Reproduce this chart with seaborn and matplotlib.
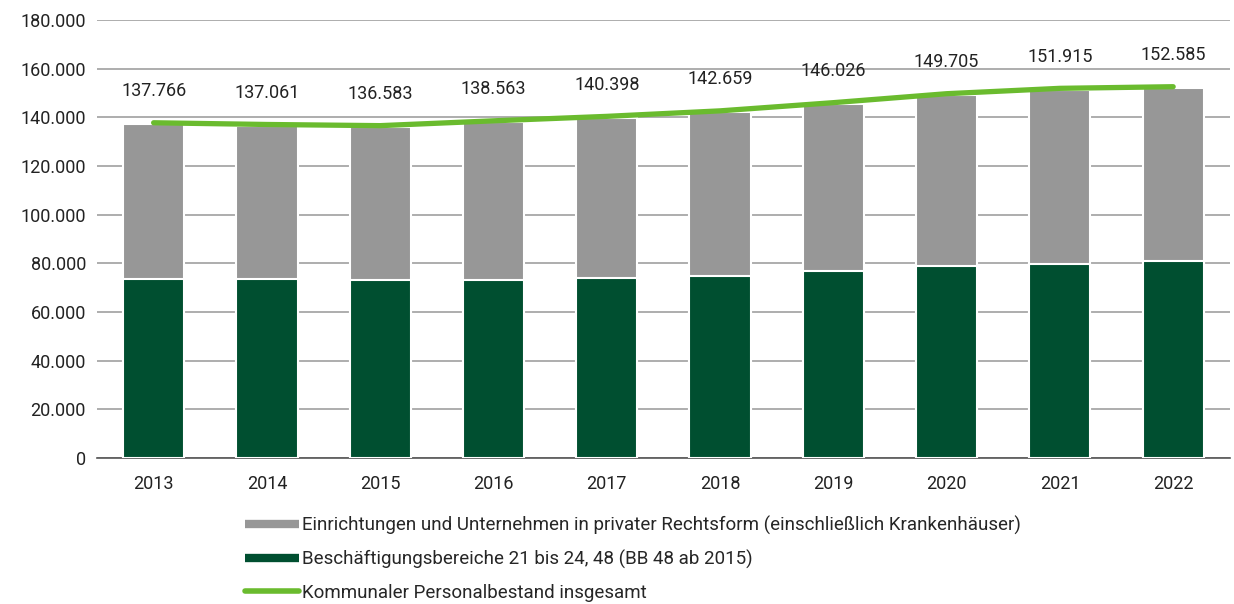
import numpy as np
import pandas as pd
import matplotlib
matplotlib.use("Agg")
import matplotlib.pyplot as plt
from matplotlib.lines import Line2D
from matplotlib.ticker import FuncFormatter
import seaborn as sns

# Werte
jahre = ["2013", "2014", "2015", "2016", "2017", "2018", "2019", "2020", "2021", "2022"]
gesamt = [137766, 137061, 136583, 138563, 140398, 142659, 146026, 149705, 151915, 152585]
kernhaushalt = [73600, 73600, 73000, 73300, 73900, 74800, 76700, 78900, 79700, 80800]
privat = [63600, 62900, 63100, 64700, 65900, 67300, 68700, 70300, 71600, 71300]

label_privat = "Einrichtungen und Unternehmen in privater Rechtsform (einschließlich Krankenhäuser)"
label_kern = "Beschäftigungsbereiche 21 bis 24, 48 (BB 48 ab 2015)"
label_gesamt = "Kommunaler Personalbestand insgesamt"

df = pd.DataFrame({"jahr": jahre, "kern": kernhaushalt, "privat": privat, "gesamt": gesamt})
df["stapel"] = df["kern"] + df["privat"]

sns.set_style("white")
plt.rcParams["font.family"] = ["Roboto", "DejaVu Sans"]

grau = "#979797"
dunkelgruen = "#004f30"
hellgruen = "#6abb2e"

fig = plt.figure(figsize=(12.34, 6.04), dpi=100)
ax = fig.add_axes([0.0786, 0.2417, 0.918, 0.7252])

# gestapelte Balken: grau (gesamt) hinten, dunkelgrün vorne
sns.barplot(data=df, x="jahr", y="stapel", color=grau, width=0.54, saturation=1,
            edgecolor="white", linewidth=1.5, ax=ax, zorder=3)
sns.barplot(data=df, x="jahr", y="kern", color=dunkelgruen, width=0.54, saturation=1,
            edgecolor="white", linewidth=1.5, ax=ax, zorder=4)

x_pos = np.arange(len(jahre))
sns.lineplot(x=x_pos, y=df["gesamt"], color=hellgruen, linewidth=3.8, ax=ax, zorder=5)

# Beschriftungen über der Linie
for i, wert in enumerate(gesamt):
    ax.text(i, wert + 13000, f"{wert:,}".replace(",", "."), ha="center", va="center",
            fontsize=13, color="#222222")

ax.set_ylim(0, 180000)
ax.set_xlim(-0.5, len(jahre) - 0.5)
ax.set_yticks(np.arange(0, 180001, 20000))
ax.yaxis.set_major_formatter(FuncFormatter(lambda v, p: f"{int(v):,}".replace(",", ".")))
ax.grid(axis="y", color="#a0a0a0", linewidth=1.2, zorder=0)
ax.set_axisbelow(True)
ax.set_xlabel("")
ax.set_ylabel("")
ax.tick_params(axis="both", length=0, labelsize=13, colors="#222222")
ax.tick_params(axis="x", pad=12)
ax.tick_params(axis="y", pad=8)
for s in ["top", "right", "left"]:
    ax.spines[s].set_visible(False)
ax.spines["bottom"].set_color("#555555")
ax.spines["bottom"].set_linewidth(1.2)

handles = [
    Line2D([0], [0], color=grau, linewidth=6, solid_capstyle="butt"),
    Line2D([0], [0], color=dunkelgruen, linewidth=6, solid_capstyle="butt"),
    Line2D([0], [0], color=hellgruen, linewidth=4, solid_capstyle="round"),
]
fig.legend(handles, [label_privat, label_kern, label_gesamt], loc="upper left",
           bbox_to_anchor=(0.191, 0.162), frameon=False, fontsize=13.5,
           handlelength=2.9, handletextpad=0.12, labelspacing=0.8, borderpad=0)

fig.savefig("out.png", dpi=100)
